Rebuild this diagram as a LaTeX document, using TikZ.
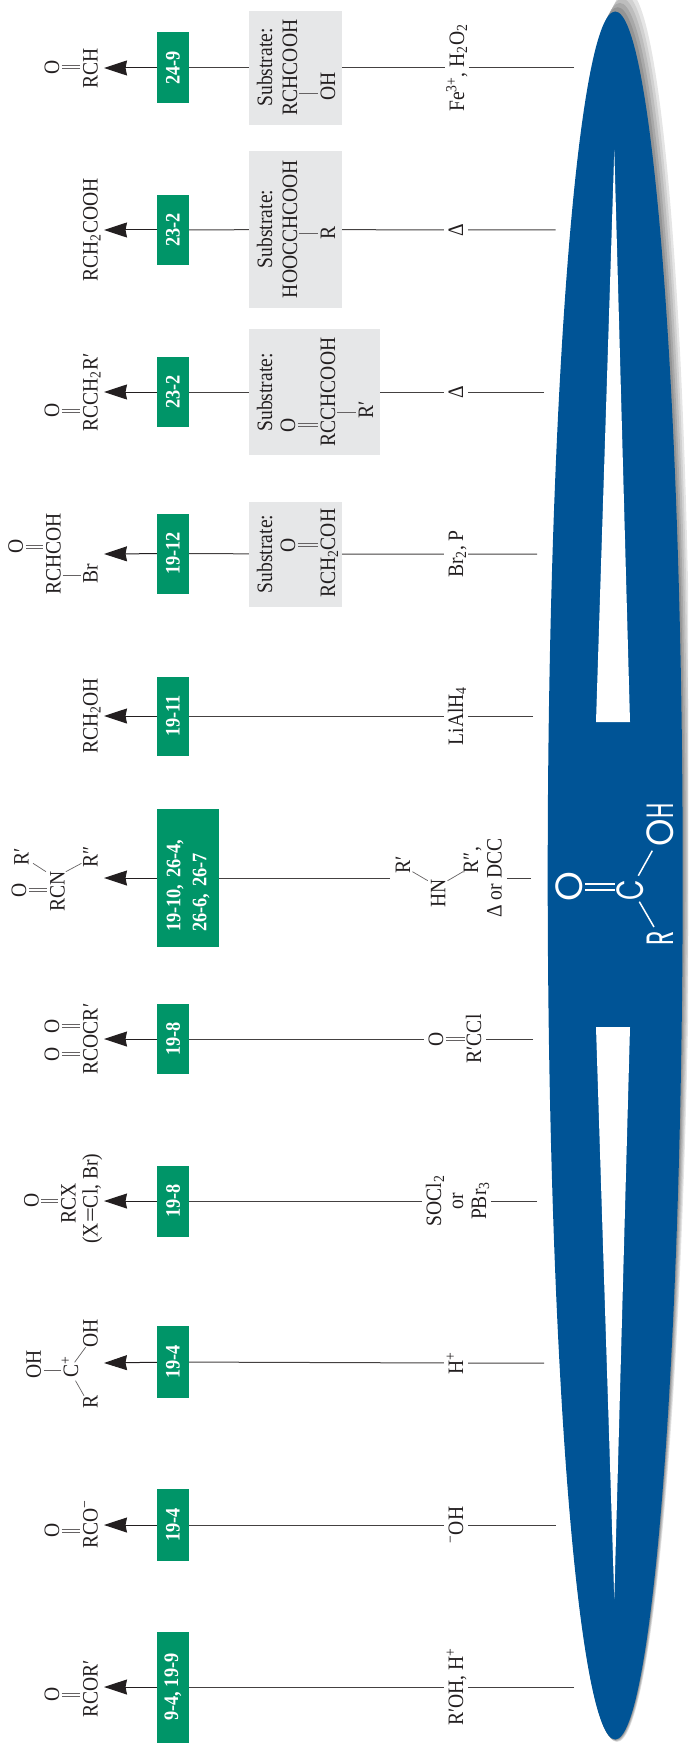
\documentclass[tikz,border=0pt]{standalone}
\usepackage{fontspec}
\setmainfont[FakeStretch=0.89]{Liberation Serif}
\newfontfamily\acidfont{Poppins}
\usetikzlibrary{arrows.meta, positioning}

\definecolor{refgreen}{HTML}{009568}
\definecolor{acidblue}{HTML}{005496}
\definecolor{boxgray}{HTML}{E6E7E8}
\definecolor{inkdark}{HTML}{231F20}

\begin{document}
\begin{tikzpicture}[
    x=1pt, y=-1pt,
    font=\fontsize{22}{24}\selectfont,
    >={Stealth[length=23pt, width=15pt, inset=1.5pt]},
    chem/.style={rotate=90, anchor=base, inner sep=0pt, text height=14.5pt, text depth=0pt, text=inkdark},
    reagent/.style={chem, text height=15pt, text depth=1pt, inner ysep=4pt},
    refbox/.style={rotate=90, fill=refgreen, text=white, inner sep=0pt, align=center, minimum height=32pt, font=\bfseries\fontsize{20.6}{26}\selectfont},
    substrate/.style={fill=boxgray, inner sep=0pt, minimum width=93pt},
    link/.style={draw=inkdark!85, line width=1pt},
    arrow/.style={->, draw=inkdark, line width=1pt},
    bond/.style={draw=inkdark!70, line width=.7pt},
    dbond/.style={bond, double, double distance=2.2pt, shorten >=2.5pt, shorten <=2.5pt},
    acid/.style={rotate=90, anchor=base, inner sep=0pt, text height=25pt, text depth=0pt, text=white, font=\acidfont\fontsize{38}{38}\selectfont},
    acidbond/.style={draw=white, line width=1.5pt}
]
\useasboundingbox (0,0) rectangle (688,1744);

% 1. Central blue shape with its shadow (Right)
\begin{scope}
    \clip (0,0) rectangle (688,1744);
    \fill[black!10, rotate around={-0.33:(622,866)}] (622,866) ellipse [x radius=68, y radius=876];
    \fill[black!18, rotate around={-0.26:(620.6,867.9)}] (620.6,867.9) ellipse [x radius=67.9, y radius=873.6];
    \fill[black!26, rotate around={-0.2:(619.3,869.8)}] (619.3,869.8) ellipse [x radius=67.8, y radius=871.2];
    \fill[black!34, rotate around={-0.13:(617.9,871.7)}] (617.9,871.7) ellipse [x radius=67.7, y radius=868.8];
    \fill[black!42, rotate around={-0.07:(616.6,873.6)}] (616.6,873.6) ellipse [x radius=67.6, y radius=866.4];
    \fill[acidblue] (615.2,875.5) ellipse [x radius=67.5, y radius=864];
\end{scope}
\fill[white] (614.3,150) -- (630,722) -- (596,722) -- cycle;
\fill[white] (614.3,1599) -- (630,1027) -- (596,1027) -- cycle;

% Carboxylic acid in the middle
\node[acid] (AcidO) at (582,887) {O};
\node[acid] (AcidC) at (643,890.5) {\scalebox{.7}[1]{C}};
\node[acid] (AcidOH) at (673,825) {\scalebox{.92}[1]{O}\scalebox{.58}[1]{H}};
\node[acid] (AcidR) at (673,938.7) {\scalebox{.62}[1]{R}};
\draw[acidbond, double=acidblue, double distance=4.5pt, shorten >=3pt, shorten <=3pt] (AcidO.south) -- (AcidO.south -| AcidC.north);
\draw[acidbond] ([xshift=-4.7pt, yshift=14.8pt]AcidC.base) -- ([xshift=-20.7pt, yshift=-25.7pt]AcidOH.base);
\draw[acidbond] ([xshift=-3.7pt, yshift=-11.2pt]AcidC.base) -- ([xshift=-19pt, yshift=11.7pt]AcidR.base);

% 2. Aldehyde row
\node[refbox, minimum width=71pt] (AldehydeRef) at (173,68) {24-9};
\node[substrate, minimum height=114pt] (AldehydeBox) at (295.5,68) {};
\node[reagent] (AldehydeReagent) at (464,68) {Fe\textsuperscript{3+}, H\textsubscript{2}O\textsubscript{2}};
\coordinate (AldehydeEnd) at (574,68);
\coordinate (AldehydeTip) at (104,68);
\draw[link] (AldehydeEnd) -- (AldehydeReagent) -- (AldehydeBox) -- (AldehydeRef);
\draw[arrow] (AldehydeRef) -- (AldehydeTip);
\node[chem] (AldehydeO) at (59,67) {O};
\node[chem] (AldehydeProd) at (97.5,68) {RCH};
\draw[dbond] (AldehydeO.south) -- (AldehydeO.south -| AldehydeProd.north);
\node[chem] (AldehydeLabel) at (272,67.5) {Substrate:};
\node[chem] (AldehydeSub) at (297,67.5) {RCHCOOH};
\node[chem] (AldehydeOH) at (335,86) {OH};
\draw[bond, shorten >=2pt, shorten <=2pt] ([yshift=-7pt]AldehydeOH.north -| AldehydeSub.south) -- ([yshift=-7pt]AldehydeOH.north);

% 3. Decarboxylated acid row
\node[refbox, minimum width=70pt] (AcidRef) at (173,230) {23-2};
\node[substrate, minimum height=156pt] (AcidBox) at (295.5,229.5) {};
\node[reagent] (AcidReagent) at (463,230) {Δ};
\coordinate (AcidEnd) at (555.5,230);
\coordinate (AcidTip) at (104,230);
\draw[link] (AcidEnd) -- (AcidReagent) -- (AcidBox) -- (AcidRef);
\draw[arrow] (AcidRef) -- (AcidTip);
\node[chem] (AcidProd) at (97.5,230) {RCH\textsubscript{2}COOH};
\node[chem] (AcidLabel) at (272,229) {Substrate:};
\node[chem] (AcidSub) at (297,229) {HOOCCHCOOH};
\node[chem] (AcidRest) at (335,233) {R};
\draw[bond, shorten >=2pt, shorten <=2pt] (AcidRest.north -| AcidSub.south) -- (AcidRest.north);

% 4. Ketone row
\node[refbox, minimum width=70pt] (KetoneRef) at (173,392) {23-2};
\node[substrate, minimum width=131pt, minimum height=126pt] (KetoneBox) at (314.5,392) {};
\node[reagent] (KetoneReagent) at (463,392) {Δ};
\coordinate (KetoneEnd) at (544,392);
\coordinate (KetoneTip) at (104,392);
\draw[link] (KetoneEnd) -- (KetoneReagent) -- (KetoneBox) -- (KetoneRef);
\draw[arrow] (KetoneRef) -- (KetoneTip);
\node[chem] (KetoneO) at (59,410.7) {O};
\node[chem] (KetoneProd) at (97.5,392.5) {RCCH\textsubscript{2}R′};
\draw[dbond] (KetoneO.south) -- (KetoneO.south -| KetoneProd.north);
\node[chem] (KetoneLabel) at (272,392.5) {Substrate:};
\node[chem] (KetoneSubO) at (295,425) {O};
\node[chem] (KetoneSub) at (335,392) {RCCHCOOH};
\node[chem] (KetoneRest) at (373,410) {R′};
\draw[dbond, double=boxgray] (KetoneSubO.south) -- (KetoneSubO.south -| KetoneSub.north);
\draw[bond, shorten >=2pt, shorten <=2pt] ([yshift=-2.7pt]KetoneRest.north -| KetoneSub.south) -- ([yshift=-2.7pt]KetoneRest.north);

% 5. Bromo acid row
\node[refbox, minimum width=80pt] (BromoRef) at (173,553.5) {19-12};
\node[substrate, minimum height=105pt] (BromoBox) at (295.5,554) {};
\node[reagent] (BromoReagent) at (463,554) {Br\textsubscript{2}, P};
\coordinate (BromoEnd) at (537,554);
\coordinate (BromoTip) at (104,554);
\draw[link] (BromoEnd) -- (BromoReagent) -- (BromoBox) -- (BromoRef);
\draw[arrow] (BromoRef) -- (BromoTip);
\node[chem] (BromoO) at (22.8,546.7) {O};
\node[chem] (BromoProd) at (60.5,553.8) {RCHCOH};
\node[chem] (BromoBr) at (97.5,573.7) {Br};
\draw[dbond] (BromoO.south) -- (BromoO.south -| BromoProd.north);
\draw[bond, shorten >=2pt, shorten <=2pt] ([yshift=-1.3pt]BromoBr.north -| BromoProd.south) -- ([yshift=-1.3pt]BromoBr.north);
\node[chem] (BromoLabel) at (272,554) {Substrate:};
\node[chem] (BromoSubO) at (295,545) {O};
\node[chem] (BromoSub) at (335,553.3) {RCH\textsubscript{2}COH};
\draw[dbond, double=boxgray] (BromoSubO.south) -- (BromoSubO.south -| BromoSub.north);

% 6. Alcohol row
\node[refbox, minimum width=79pt] (AlcoholRef) at (173,716) {19-11};
\node[reagent] (AlcoholReagent) at (463,716) {LiAlH\textsubscript{4}};
\coordinate (AlcoholEnd) at (533,716);
\coordinate (AlcoholTip) at (104,716);
\draw[link] (AlcoholEnd) -- (AlcoholReagent) -- (AlcoholRef);
\draw[arrow] (AlcoholRef) -- (AlcoholTip);
\node[chem] (AlcoholProd) at (97.5,716) {RCH\textsubscript{2}OH};

% 7. Amide row
\node[refbox, align=left, inner xsep=15.3pt, text width=107.7pt, minimum height=62pt] (AmideRef) at (188,878) {19-10, 26-4,\\26-6, 26-7};
\node[reagent] (AmideReagent) at (501.5,878) {Δ or DCC};
\coordinate (AmideEnd) at (531,878);
\coordinate (AmideStop) at (390,878);
\coordinate (AmideTip) at (104,878);
\draw[link] (AmideEnd) -- (AmideReagent);
\draw[link] (AmideStop) -- (AmideRef);
\draw[arrow] (AmideRef) -- (AmideTip);
\node[chem] (AmideO) at (26,890) {O};
\node[chem] (AmideProd) at (64.5,891.7) {RCN};
\node[chem] (AmideRa) at (28.5,857) {R′};
\node[chem] (AmideRb) at (97.5,857) {R″};
\draw[dbond] (AmideO.south) -- (AmideO.south -| AmideProd.north);
\draw[bond] ([xshift=-18.5pt, yshift=20pt]AmideProd.base) -- ([xshift=4.5pt, yshift=-6.3pt]AmideRa.base);
\draw[bond] ([xshift=1.3pt, yshift=20pt]AmideProd.base) -- ([xshift=-16pt, yshift=-6.3pt]AmideRb.base);
\node[chem] (AmineRa) at (410,865) {R′};
\node[chem] (AmineHN) at (445.4,893) {HN};
\node[chem] (AmineRb) at (478,860) {R″,};
\draw[bond] ([xshift=2.5pt, yshift=-6.7pt]AmineRa.base) -- ([xshift=-17.6pt, yshift=12.3pt]AmineHN.base);
\draw[bond] ([xshift=2.2pt, yshift=12.3pt]AmineHN.base) -- ([xshift=-15pt, yshift=-11.7pt]AmineRb.base);

% 8. Anhydride row
\node[refbox, minimum width=70pt] (AnhydrideRef) at (173,1039) {19-8};
\node[reagent] (AnhydrideO) at (443,1039) {O};
\node[reagent] (AnhydrideChloride) at (481,1039) {R′CCl};
\coordinate (AnhydrideEnd) at (533,1039);
\coordinate (AnhydrideTip) at (104,1039);
\draw[link] (AnhydrideEnd) -- (AnhydrideChloride);
\draw[link] (AnhydrideO) -- (AnhydrideRef);
\draw[arrow] (AnhydrideRef) -- (AnhydrideTip);
\draw[bond, double, double distance=2.2pt, shorten <=-2.5pt, shorten >=-3pt] (AnhydrideO.south) -- (AnhydrideChloride.north);
\node[chem] (AnhydrideOa) at (59,1054) {O};
\node[chem] (AnhydrideOb) at (59,1026) {O};
\node[chem] (AnhydrideProd) at (97.5,1039) {RCOCR′};
\draw[dbond] (AnhydrideOa.south) -- (AnhydrideOa.south -| AnhydrideProd.north);
\draw[dbond] (AnhydrideOb.south) -- (AnhydrideOb.south -| AnhydrideProd.north);

% 9. Acyl halide row
\node[refbox, minimum width=71pt] (HalideRef) at (173,1201) {19-8};
\node[reagent] (HalideSOCl) at (441,1201) {SOCl\textsubscript{2}};
\node[chem] (HalideOr) at (463,1201) {or};
\node[reagent] (HalidePBr) at (486,1201) {PBr\textsubscript{3}};
\coordinate (HalideEnd) at (537,1201);
\coordinate (HalideTip) at (104,1201);
\draw[link] (HalideEnd) -- (HalidePBr);
\draw[link] (HalideSOCl) -- (HalideRef);
\draw[arrow] (HalideRef) -- (HalideTip);
\node[chem] (HalideO) at (38.6,1200.7) {O};
\node[chem] (HalideProd) at (75.5,1203) {RCX};
\node[chem] (HalideNote) at (97.5,1198.6) {(X\scalebox{1.35}[1]{=}Cl, Br)};
\draw[dbond] (HalideO.south) -- (HalideO.south -| HalideProd.north);

% 10. Cation row
\node[refbox, minimum width=72pt] (CationRef) at (173,1362) {19-4};
\node[reagent] (CationReagent) at (463,1363) {H\textsuperscript{+}};
\coordinate (CationEnd) at (544,1363);
\coordinate (CationTip) at (104,1363);
\draw[link] (CationEnd) -- (CationReagent) -- (CationRef);
\draw[arrow] (CationRef) -- (CationTip);
\node[chem] (CationOHa) at (40.8,1364.7) {OH};
\node[chem] (CationC) at (78,1367.3) {C\textsuperscript{+}};
\node[chem] (CationOHb) at (97.5,1333) {OH};
\node[chem] (CationR) at (97.5,1402) {R};
\draw[bond] ([xshift=3pt, yshift=-6pt]CationOHa.base) -- ([xshift=-17.5pt, yshift=-3.4pt]CationC.base);
\draw[bond] ([xshift=-2.5pt, yshift=-13.4pt]CationC.base) -- ([xshift=-13.5pt, yshift=6.3pt]CationR.base);
\draw[bond] ([xshift=-3.4pt, yshift=5pt]CationC.base) -- ([xshift=-11.9pt, yshift=-14.3pt]CationOHb.base);

% 11. Carboxylate row
\node[refbox, minimum width=72pt] (AnionRef) at (173,1525) {19-4};
\node[reagent] (AnionReagent) at (463,1525) {\textsuperscript{−}OH};
\coordinate (AnionEnd) at (555.5,1525);
\coordinate (AnionTip) at (104,1525);
\draw[link] (AnionEnd) -- (AnionReagent) -- (AnionRef);
\draw[arrow] (AnionRef) -- (AnionTip);
\node[chem] (AnionO) at (59,1530.7) {O};
\node[chem] (AnionProd) at (97.5,1524) {RCO\textsuperscript{−}};
\draw[dbond] (AnionO.south) -- (AnionO.south -| AnionProd.north);

% 12. Ester row
\node[refbox, minimum width=111pt] (EsterRef) at (173,1687) {9-4, 19-9};
\node[reagent] (EsterReagent) at (463,1687) {R′OH, H\textsuperscript{+}};
\coordinate (EsterEnd) at (574,1687);
\coordinate (EsterTip) at (104,1687);
\draw[link] (EsterEnd) -- (EsterReagent) -- (EsterRef);
\draw[arrow] (EsterRef) -- (EsterTip);
\node[chem] (EsterO) at (59,1694.7) {O};
\node[chem] (EsterProd) at (97.5,1689) {RCOR′};
\draw[dbond] (EsterO.south) -- (EsterO.south -| EsterProd.north);

\end{tikzpicture}
\end{document}
